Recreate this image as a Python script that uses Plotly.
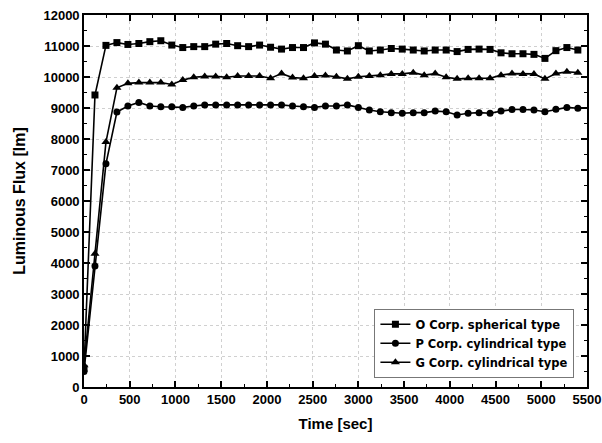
import plotly.graph_objects as go

time_sec = [0, 120, 240, 360, 480, 600, 720, 840, 960, 1080,
            1200, 1320, 1440, 1560, 1680, 1800, 1920, 2040, 2160, 2280,
            2400, 2520, 2640, 2760, 2880, 3000, 3120, 3240, 3360, 3480,
            3600, 3720, 3840, 3960, 4080, 4200, 4320, 4440, 4560, 4680,
            4800, 4920, 5040, 5160, 5280, 5400]

o_spherical = [600, 9420, 11020, 11110, 11050, 11080, 11140, 11170, 11030, 10950,
               10980, 10980, 11060, 11080, 11010, 10980, 11030, 10960, 10900, 10950,
               10950, 11100, 11060, 10870, 10840, 11010, 10840, 10870, 10920, 10900,
               10870, 10840, 10870, 10870, 10820, 10890, 10900, 10890, 10780, 10750,
               10750, 10730, 10600, 10850, 10950, 10870]

p_cylindrical = [500, 3900, 7200, 8870, 9065, 9180, 9065, 9040, 9040, 9020,
                 9065, 9100, 9100, 9100, 9100, 9100, 9100, 9100, 9100, 9065,
                 9040, 9020, 9065, 9065, 9100, 9020, 8935, 8880, 8850, 8830,
                 8850, 8850, 8900, 8880, 8775, 8830, 8850, 8830, 8900, 8950,
                 8950, 8935, 8880, 8960, 9020, 8990]

g_cylindrical = [700, 4300, 7900, 9650, 9795, 9820, 9820, 9820, 9760, 9900,
                 9990, 10020, 10020, 9990, 10030, 10030, 10030, 9960, 10110, 9980,
                 9960, 10030, 10050, 10010, 9940, 10010, 10030, 10060, 10100, 10100,
                 10140, 10060, 10110, 9990, 9940, 9960, 9960, 9960, 10060, 10110,
                 10100, 10100, 9940, 10110, 10170, 10140]

series_names = ["O Corp. spherical type", "P Corp. cylindrical type", "G Corp. cylindrical type"]
x_ticks = [0, 500, 1000, 1500, 2000, 2500, 3000, 3500, 4000, 4500, 5000, 5500]
y_ticks = [0, 1000, 2000, 3000, 4000, 5000, 6000, 7000, 8000, 9000, 10000, 11000, 12000]

FONT = "Liberation Sans, Arial, sans-serif"

fig = go.Figure()
series = [o_spherical, p_cylindrical, g_cylindrical]
symbols = ["square", "circle", "triangle-up"]
sizes = [7, 7, 8]
for name, vals, sym, sz in zip(series_names, series, symbols, sizes):
    fig.add_trace(go.Scatter(
        x=time_sec, y=vals, mode="lines+markers", name=name,
        line=dict(color="black", width=1.6),
        marker=dict(symbol=sym, size=sz, color="black"),
    ))

axis_common = dict(
    showline=True, linecolor="black", linewidth=1.6, mirror="ticks",
    ticks="inside", ticklen=6, tickwidth=1.5, tickcolor="black",
    showgrid=True, gridcolor="#d0d0d0", griddash="dot", gridwidth=1,
    zeroline=False, automargin=False,
    tickfont=dict(family=FONT, size=13, color="black", weight="bold"),
)

fig.update_xaxes(
    range=[0, 5500], tickvals=x_ticks, ticktext=[str(v) for v in x_ticks],
    minor=dict(ticks="inside", ticklen=3, tickwidth=1.2, tickcolor="black", dtick=250, tick0=0, showgrid=False),
    title=dict(text="<b>Time [sec]</b>", font=dict(family=FONT, size=15, color="black"), standoff=12),
    **axis_common,
)
fig.update_yaxes(
    range=[0, 12000], tickvals=y_ticks, ticktext=[str(v) for v in y_ticks],
    minor=dict(ticks="inside", ticklen=3, tickwidth=1.2, tickcolor="black", dtick=500, tick0=0, showgrid=False),
    title=dict(text="<b>Luminous Flux [lm]</b>", font=dict(family=FONT, size=16, color="black"), standoff=14),
    **axis_common,
)

fig.update_layout(
    width=602, height=443,
    margin=dict(l=84, r=15, t=15, b=56),
    plot_bgcolor="white", paper_bgcolor="white",
    showlegend=True,
    legend=dict(
        x=0.975, y=0.025, xanchor="right", yanchor="bottom",
        bgcolor="white", bordercolor="#777777", borderwidth=1,
        font=dict(family="DejaVu Sans, sans-serif", size=11.5, color="black", weight="bold"),
        tracegroupgap=0, itemwidth=30,
    ),
)

fig.write_html("out.html", config={"displayModeBar": False},
               post_script="document.body.style.margin='0';")
